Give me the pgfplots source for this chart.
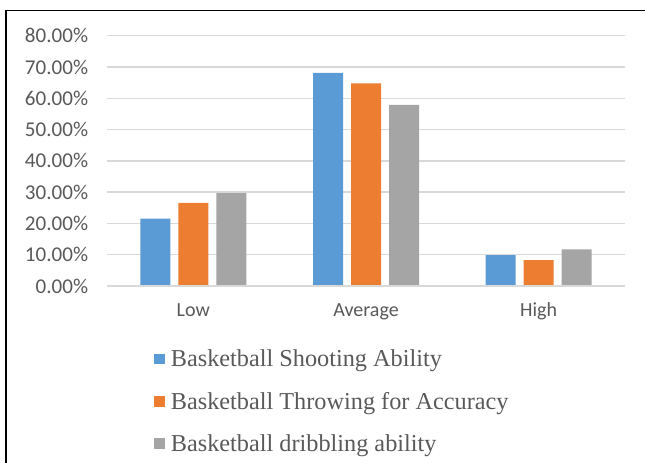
\documentclass[border=0pt]{standalone}
\usepackage{fontspec}
\setmainfont{Carlito}
\newfontfamily\legendfont{Liberation Serif}
\usepackage{pgfplots}
\pgfplotsset{compat=1.18}

\definecolor{sBlue}{HTML}{5B9BD5}
\definecolor{sOrange}{HTML}{ED7D31}
\definecolor{sGray}{HTML}{A5A5A5}
\definecolor{gridGray}{HTML}{D9D9D9}
\definecolor{labelGray}{HTML}{595959}

\begin{document}
\begin{tikzpicture}
% canvas and the partial frame along the left and top edges
\path[use as bounding box] (0,0) rectangle (483.75pt,347.25pt);
\draw[line width=1.2pt] (4.4pt,0pt) -- (4.4pt,339.4pt) -- (483.75pt,339.4pt);
\begin{axis}[
  at={(80.25pt,132.75pt)}, anchor=south west,
  scale only axis,
  width=388.5pt, height=187.7pt,
  ybar=6pt, bar width=22.5pt,
  xmin=-0.5, xmax=2.5,
  ymin=0, ymax=80,
  xtick=data,
  xticklabels={Low, Average, High},
  ytick={0,10,20,30,40,50,60,70,80},
  yticklabels={0.00\%,10.00\%,20.00\%,30.00\%,40.00\%,50.00\%,60.00\%,70.00\%,80.00\%},
  major tick length=0pt,
  axis line style={draw=none},
  ymajorgrids, grid style={gridGray, line width=1.1pt},
  ticklabel style={text=labelGray, inner sep=0pt},
  yticklabel style={font=\fontsize{15.8}{15.8}\selectfont, anchor=east, xshift=-14pt},
  xticklabel style={font=\fontsize{15}{15}\selectfont, anchor=base, yshift=-23.25pt},
  legend style={
    at={(axis description cs:0.0907,-0.243)}, anchor=north west,
    draw=none, fill=none, inner sep=0pt,
    font=\legendfont\fontsize{18.2}{18.2}\selectfont, text=labelGray,
    row sep=13.5pt, legend cell align=left,
    /tikz/every odd column/.append style={column sep=2.5pt},
  },
  legend image code/.code={\fill[#1] (0pt,-4pt) rectangle (8pt,4pt);},
  clip=false,
]
\addplot[fill=sBlue, draw=none] coordinates {(0,21.5) (1,68.1) (2,9.9)};
\addplot[fill=sOrange, draw=none] coordinates {(0,26.6) (1,64.8) (2,8.3)};
\addplot[fill=sGray, draw=none] coordinates {(0,29.7) (1,57.9) (2,11.7)};
% baseline of the category axis
\draw[gridGray, line width=1.1pt] (rel axis cs:0,0) -- (rel axis cs:1,0);
\legend{Basketball Shooting Ability, Basketball Throwing for Accuracy, Basketball dribbling ability}
\end{axis}
\end{tikzpicture}
\end{document}
